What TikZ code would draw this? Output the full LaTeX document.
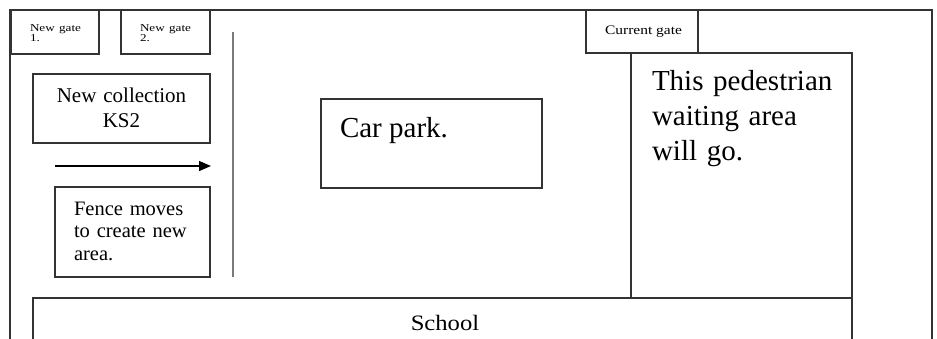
\documentclass[tikz,border=0pt]{standalone}
\usepackage{fontspec}
\setmainfont{Liberation Serif}
\usetikzlibrary{arrows.meta}
\definecolor{linec}{HTML}{333333}
\definecolor{fencec}{HTML}{7A7A7A}
\begin{document}
\begin{tikzpicture}[x=1pt,y=1pt,yscale=-1,
  box/.style={draw=linec,line width=1.4pt,fill=white,inner sep=0pt,outer sep=0pt},
  txt/.style={inner sep=0pt,outer sep=0pt,text=black},
  frame/.style={draw=linec,line width=1.4pt}]
\useasboundingbox (0,0) rectangle (937,338);
\fill[white] (0,0) rectangle (937,338);
% outer frame
\draw[frame] (10,345) -- (10,10) -- (932,10) -- (932,345);
% gates
\node[box,minimum width=88pt,minimum height=44pt] (g1) at (55,32) {};
\node[box,minimum width=89pt,minimum height=44pt] (g2) at (165.5,32) {};
\node[box,minimum width=112pt,minimum height=43pt] (cg) at (642,31.5) {};
\node[txt,anchor=base west,text width=60pt,align=left,font=\fontsize{10.5}{10}\selectfont] (g1t) at (30,31) {\scalebox{1.25}[1]{New gate}\\\scalebox{1.25}[1]{1.}};
\node[txt,anchor=base west,text width=60pt,align=left,font=\fontsize{10.5}{10}\selectfont] (g2t) at (140,31) {\scalebox{1.25}[1]{New gate}\\\scalebox{1.25}[1]{2.}};
\node[txt,anchor=base,font=\fontsize{13}{14}\selectfont] (cgt) at (643.5,34) {\scalebox{1.19}[1]{Current gate}};
% pedestrian area
\node[box,minimum width=221pt,minimum height=245pt] (ped) at (741.5,175.5) {};
\node[txt,anchor=base west,text width=200pt,align=left,font=\fontsize{29}{35}\selectfont] (pedt) at (652,90) {This pedestrian\\waiting area\\will go.};
% school
\draw[frame] (33,345) -- (33,298) -- (852,298) -- (852,345);
\node[txt,anchor=base,font=\fontsize{22}{26}\selectfont] (school) at (445,330) {\scalebox{1.12}[1]{School}};
% fence line
\coordinate (fa) at (233,32);
\coordinate (fb) at (233,277);
\draw[fencec,line width=2.2pt] (fa) -- (fb);
% new collection
\node[box,minimum width=177pt,minimum height=69pt] (nc) at (121.5,108.5) {};
\node[txt,anchor=base,text width=177pt,align=center,font=\fontsize{21}{25}\selectfont] (nct) at (121.5,102) {New collection\\KS2};
% arrow
\coordinate (aa) at (55,166);
\coordinate (ab) at (211,166);
\draw[black,line width=1.3pt,-{Triangle[length=12pt,width=10pt]}] (aa) -- (ab);
% fence box
\node[box,minimum width=155pt,minimum height=90pt] (fm) at (132.5,232) {};
\node[txt,anchor=base west,text width=130pt,align=left,font=\fontsize{20.5}{22.5}\selectfont] (fmt) at (74,215) {Fence moves\\to create new\\area.};
% car park
\node[box,minimum width=221pt,minimum height=89pt] (cp) at (431.5,143.5) {};
\node[txt,anchor=base west,font=\fontsize{29}{35}\selectfont] (cpt) at (340,137) {Car park.};
\end{tikzpicture}
\end{document}
